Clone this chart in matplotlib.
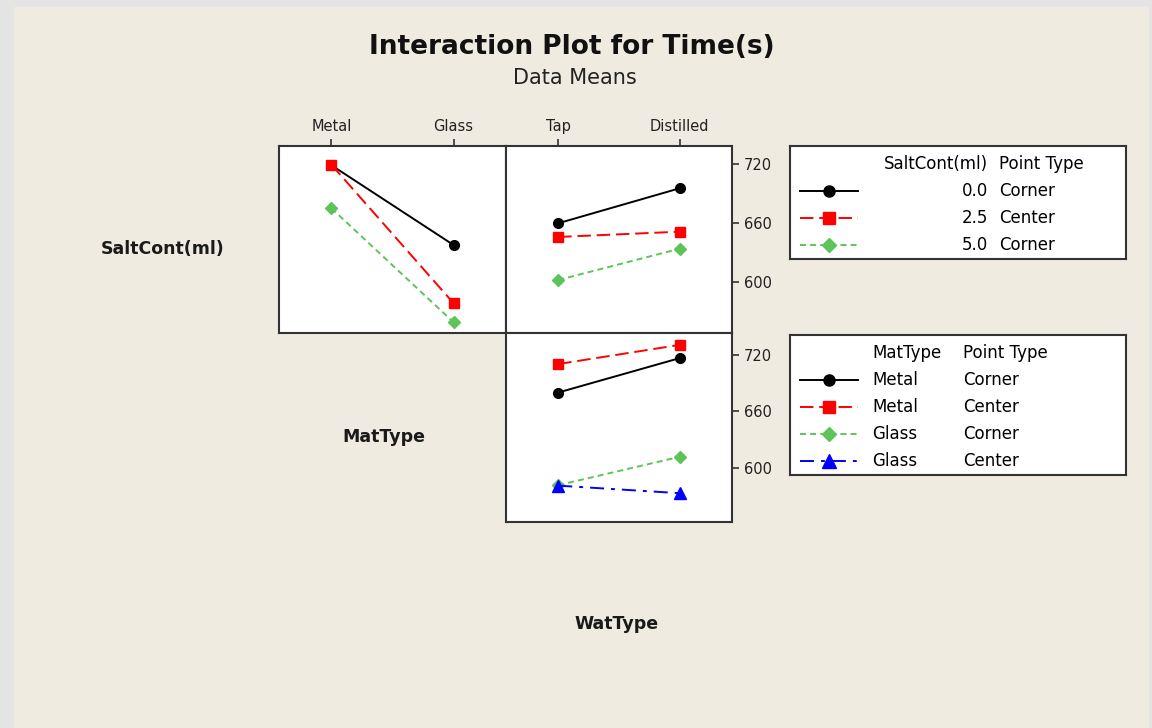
import matplotlib.pyplot as plt
from matplotlib.patches import Rectangle

# factor levels
mat_levels = ["Metal", "Glass"]
wat_levels = ["Tap", "Distilled"]
salt_levels = ["0.0", "2.5", "5.0"]
salt_point_types = ["Corner", "Center", "Corner"]

# mean Time(s) for each SaltCont(ml) level, across MatType and WatType
salt_by_mat = [[719.0, 637.5], [719.5, 578.0], [675.0, 558.5]]
salt_by_wat = [[659.7, 695.5], [645.7, 651.1], [601.7, 633.7]]

# mean Time(s) for each MatType / Point Type group across WatType
mat_groups = ["Metal", "Metal", "Glass", "Glass"]
mat_point_types = ["Corner", "Center", "Corner", "Center"]
mat_by_wat = [[679.7, 716.2], [709.9, 730.2], [581.5, 611.6], [581.0, 573.0]]

y_ticks = [600, 660, 720]

W, H = 1152, 728
FRAME = "#333333"
GREEN = "#5ec45a"
LW = 1.4

styles = [
    dict(color="black", marker="o", ms=7, ls="-"),
    dict(color="red", marker="s", ms=7, ls=(0, (6.9, 3))),
    dict(color=GREEN, marker="D", ms=6.5, ls=(0, (3.1, 2.1))),
    dict(color="blue", marker="^", ms=8.5, ls=(0, (7.2, 3.6, 2, 3.6))),
]


def px_axes(fig, x0, y0, x1, y1):
    # axes from pixel box (top-left origin)
    return fig.add_axes([x0 / W, 1 - y1 / H, (x1 - x0) / W, (y1 - y0) / H])


def px_text(fig, x, y, s, **kw):
    fig.text(x / W, 1 - y / H, s, **kw)


def style_panel(ax, ylim):
    ax.set_facecolor("white")
    for sp in ax.spines.values():
        sp.set_color(FRAME)
        sp.set_linewidth(1.5)
    ax.set_xlim(-0.43, 1.43)
    ax.set_ylim(*ylim)
    ax.tick_params(colors=FRAME, labelcolor="#222222", direction="out",
                   length=5, width=1.2, labelsize=10.5)
    ax.tick_params(axis="x", top=True, bottom=False, labeltop=True, labelbottom=False)
    ax.tick_params(axis="y", left=False, right=True, labelleft=False, labelright=True)
    ax.set_xticks([])
    ax.set_yticks([])


def draw_lines(ax, series, n):
    for vals, st in zip(series, styles[:n]):
        ax.plot([0, 1], vals, color=st["color"], ls=st["ls"], lw=LW,
                marker=st["marker"], ms=st["ms"], mec=st["color"], mfc=st["color"])


def legend_box(fig, box):
    x0, y0, x1, y1 = box
    lg = px_axes(fig, x0, y0, x1, y1)
    lg.set_xlim(0, x1 - x0)
    lg.set_ylim(y1 - y0, 0)
    lg.set_xticks([])
    lg.set_yticks([])
    lg.set_facecolor("white")
    for sp in lg.spines.values():
        sp.set_color(FRAME)
        sp.set_linewidth(1.5)
    return lg


def legend_sample(lg, y, st):
    lg.plot([10, 68], [y, y], color=st["color"], ls=st["ls"], lw=LW)
    lg.plot([39], [y], color=st["color"], marker=st["marker"], ms=st["ms"] + 1)


def main():
    fig = plt.figure(figsize=(W / 100, H / 100), dpi=100)
    fig.patch.set_facecolor("#e4e4e4")
    fig.add_artist(Rectangle((14 / W, 0), (1148 - 14) / W, 1 - 7 / H,
                             transform=fig.transFigure, color="#f0ebe1", zorder=0))

    px_text(fig, 572, 47, "Interaction Plot for Time(s)", ha="center", va="center",
            fontsize=19, fontweight="bold", color="#111111")
    px_text(fig, 575, 78, "Data Means", ha="center", va="center",
            fontsize=15, color="#222222")

    # SaltCont vs MatType
    ax_tl = px_axes(fig, 279, 146, 506, 333)
    style_panel(ax_tl, (547.5, 738.7))
    draw_lines(ax_tl, salt_by_mat, 3)
    ax_tl.set_xticks([0, 1])
    ax_tl.set_xticklabels(mat_levels)

    # SaltCont vs WatType
    ax_tr = px_axes(fig, 506, 146, 732, 333)
    style_panel(ax_tr, (547.5, 738.7))
    draw_lines(ax_tr, salt_by_wat, 3)
    ax_tr.set_xticks([0, 1])
    ax_tr.set_xticklabels(wat_levels)
    ax_tr.set_yticks(y_ticks)

    # MatType vs WatType
    ax_br = px_axes(fig, 506, 333, 732, 521.5)
    style_panel(ax_br, (543, 742.8))
    draw_lines(ax_br, mat_by_wat, 4)
    ax_br.set_yticks(y_ticks)

    for x, y, s in [(163, 249, "SaltCont(ml)"), (384, 437, "MatType"), (617, 624, "WatType")]:
        px_text(fig, x, y, s, ha="center", va="center", fontsize=12.5,
                fontweight="bold", color="#1a1a1a")

    # legend for SaltCont(ml)
    lg1 = legend_box(fig, (790, 146, 1126, 259))
    lg1.text(198, 18, "SaltCont(ml)", ha="right", va="center", fontsize=12)
    lg1.text(209, 18, "Point Type", ha="left", va="center", fontsize=12)
    for i, (lvl, pt) in enumerate(zip(salt_levels, salt_point_types)):
        y = 45 + i * 27
        legend_sample(lg1, y, styles[i])
        lg1.text(198, y, lvl, ha="right", va="center", fontsize=12)
        lg1.text(209, y, pt, ha="left", va="center", fontsize=12)

    # legend for MatType
    lg2 = legend_box(fig, (790, 335, 1126, 475))
    lg2.text(82, 18, "MatType", ha="left", va="center", fontsize=12)
    lg2.text(173, 18, "Point Type", ha="left", va="center", fontsize=12)
    for i, (grp, pt) in enumerate(zip(mat_groups, mat_point_types)):
        y = 45 + i * 27
        legend_sample(lg2, y, styles[i])
        lg2.text(82, y, grp, ha="left", va="center", fontsize=12)
        lg2.text(173, y, pt, ha="left", va="center", fontsize=12)

    fig.savefig("out.png", dpi=100, facecolor=fig.get_facecolor())


if __name__ == "__main__":
    main()
